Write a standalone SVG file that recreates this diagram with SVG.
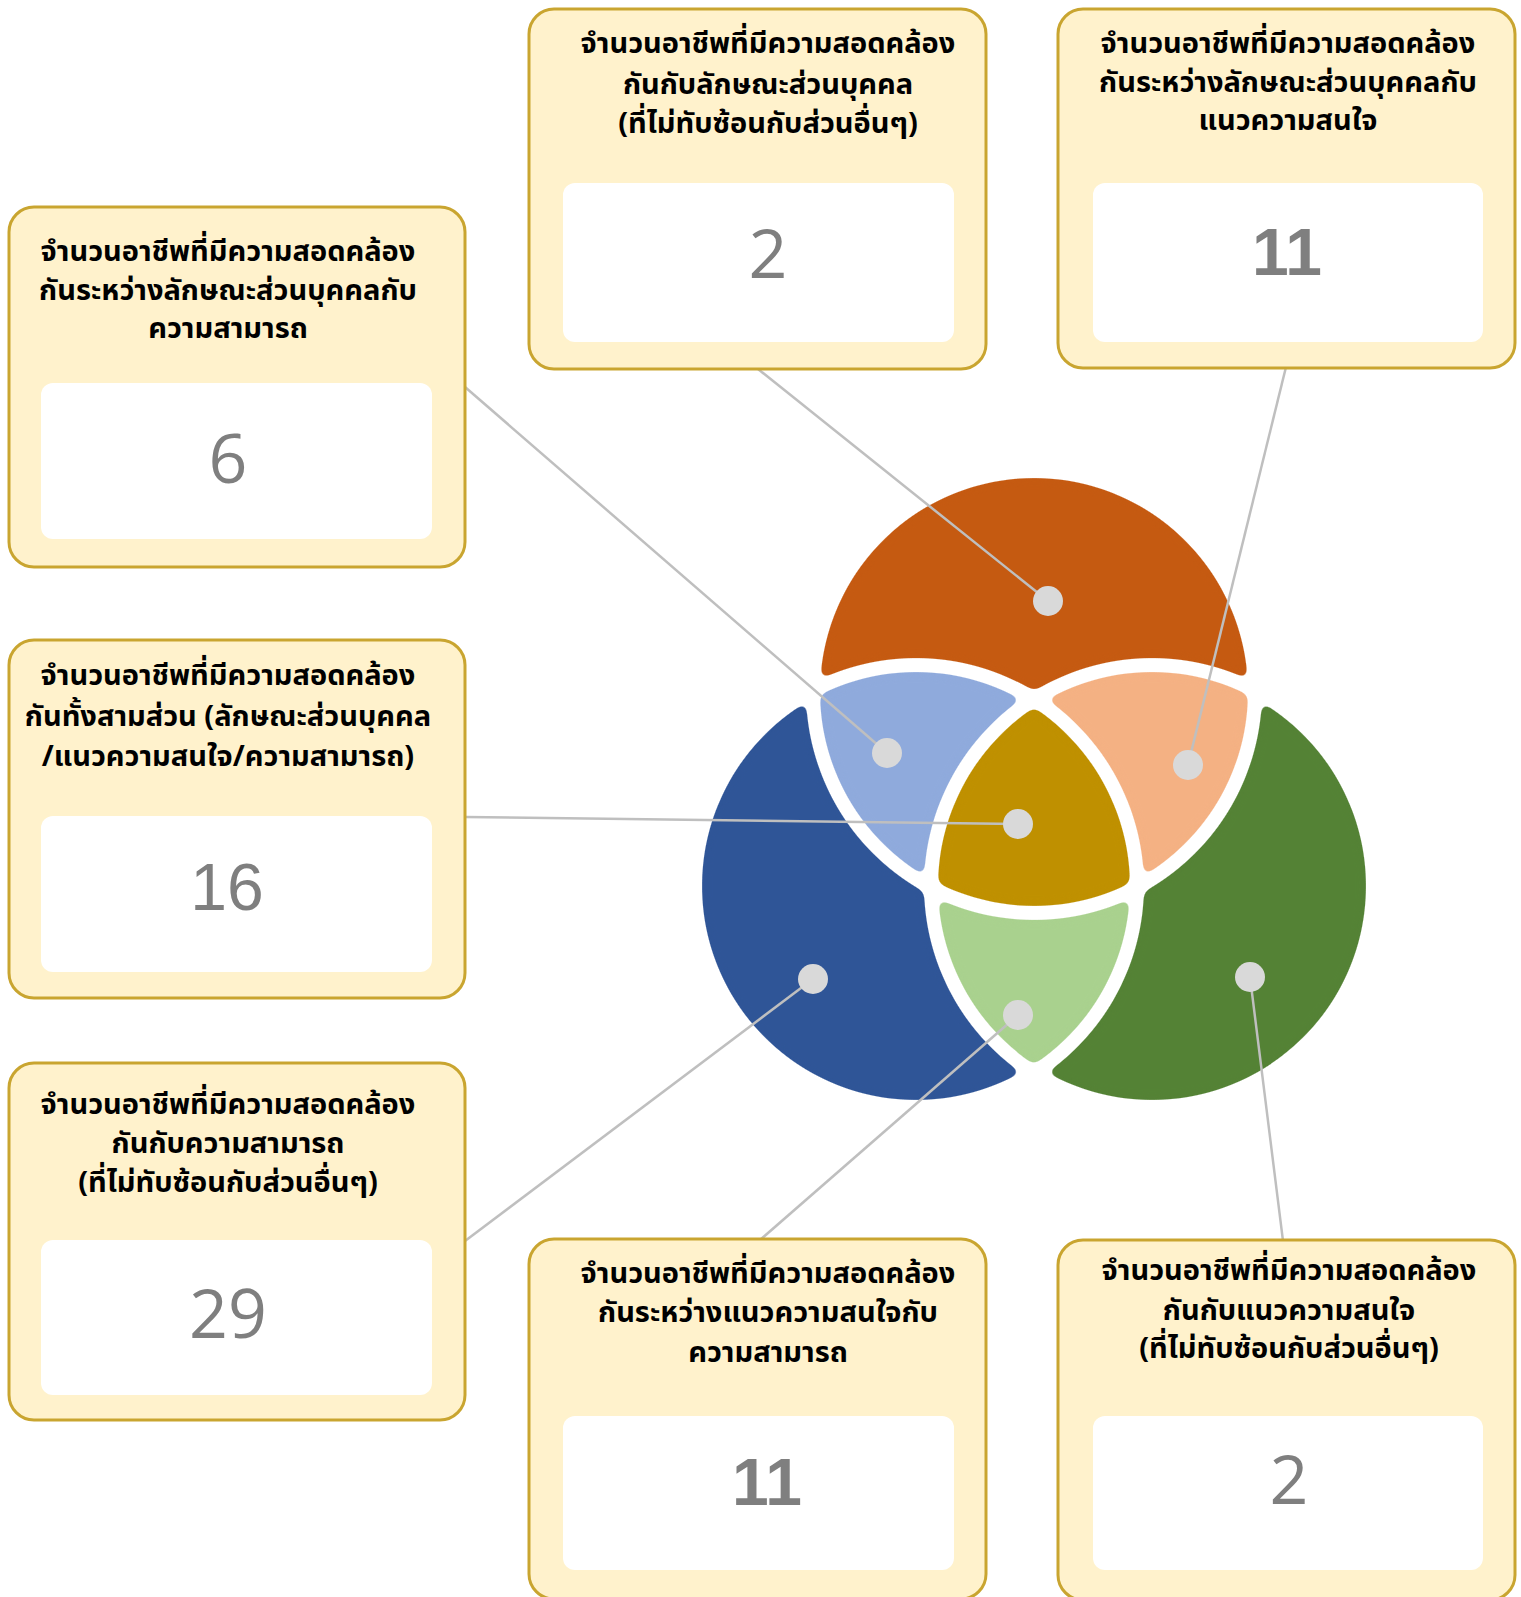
<svg xmlns="http://www.w3.org/2000/svg" width="1521" height="1597" viewBox="0 0 1521 1597">
<style>
.box{fill:#FFF2CC;stroke:#C9A530;stroke-width:3}
.inner{fill:#FFFFFF}
.lbl{font-family:"Noto Sans Thai","Tahoma","Noto Sans","DejaVu Sans",sans-serif;font-weight:bold;font-size:29px;fill:#000;text-anchor:middle}
.num{font-family:"Open Sans","Liberation Sans",sans-serif;font-size:68px;fill:#7F7F7F;text-anchor:middle}
.numr{font-family:"Liberation Sans",Arial,sans-serif;font-size:66px;fill:#7F7F7F;text-anchor:middle}
.numb{font-family:"Liberation Sans",Arial,sans-serif;font-weight:bold;font-size:66px;fill:#7F7F7F;text-anchor:middle}
.conn{stroke:#BFBFBF;stroke-width:2.5;fill:none}
.dot{fill:#D9D9D9}
.ring{fill:none;stroke:#000000;stroke-width:14}
</style>
<defs>
<clipPath id="cO"><circle cx="1034" cy="692" r="221"/></clipPath>
<clipPath id="cB"><circle cx="916" cy="886" r="221"/></clipPath>
<clipPath id="cG"><circle cx="1152" cy="886" r="221"/></clipPath>
<g id="rings">
<circle class="ring" cx="1034" cy="692" r="221"/>
<circle class="ring" cx="916" cy="886" r="221"/>
<circle class="ring" cx="1152" cy="886" r="221"/>
</g>
<mask id="mO" maskUnits="userSpaceOnUse" x="660" y="440" width="740" height="700">
<circle cx="1034" cy="692" r="221" fill="#FFFFFF"/>
<circle cx="916" cy="886" r="221" fill="#000000"/>
<circle cx="1152" cy="886" r="221" fill="#000000"/>
<use href="#rings"/>
</mask>
<mask id="mB" maskUnits="userSpaceOnUse" x="660" y="440" width="740" height="700">
<circle cx="916" cy="886" r="221" fill="#FFFFFF"/>
<circle cx="1034" cy="692" r="221" fill="#000000"/>
<circle cx="1152" cy="886" r="221" fill="#000000"/>
<use href="#rings"/>
</mask>
<mask id="mG" maskUnits="userSpaceOnUse" x="660" y="440" width="740" height="700">
<circle cx="1152" cy="886" r="221" fill="#FFFFFF"/>
<circle cx="1034" cy="692" r="221" fill="#000000"/>
<circle cx="916" cy="886" r="221" fill="#000000"/>
<use href="#rings"/>
</mask>
<mask id="mOB" maskUnits="userSpaceOnUse" x="660" y="440" width="740" height="700">
<g clip-path="url(#cO)"><circle cx="916" cy="886" r="221" fill="#FFFFFF"/></g>
<circle cx="1152" cy="886" r="221" fill="#000000"/>
<use href="#rings"/>
</mask>
<mask id="mOG" maskUnits="userSpaceOnUse" x="660" y="440" width="740" height="700">
<g clip-path="url(#cO)"><circle cx="1152" cy="886" r="221" fill="#FFFFFF"/></g>
<circle cx="916" cy="886" r="221" fill="#000000"/>
<use href="#rings"/>
</mask>
<mask id="mBG" maskUnits="userSpaceOnUse" x="660" y="440" width="740" height="700">
<g clip-path="url(#cB)"><circle cx="1152" cy="886" r="221" fill="#FFFFFF"/></g>
<circle cx="1034" cy="692" r="221" fill="#000000"/>
<use href="#rings"/>
</mask>
<mask id="mOBG" maskUnits="userSpaceOnUse" x="660" y="440" width="740" height="700">
<g clip-path="url(#cO)"><g clip-path="url(#cB)"><circle cx="1152" cy="886" r="221" fill="#FFFFFF"/></g></g>
<use href="#rings"/>
</mask>
<filter id="round" filterUnits="userSpaceOnUse" x="660" y="440" width="740" height="700" color-interpolation-filters="sRGB">
<feGaussianBlur in="SourceGraphic" stdDeviation="4.5" result="b"/>
<feComponentTransfer in="b"><feFuncA type="linear" slope="10" intercept="-4.5"/></feComponentTransfer>
</filter>
</defs>
<rect width="1521" height="1597" fill="#FFFFFF"/>
<g id="venn">
<g id="region-orange" filter="url(#round)"><rect x="660" y="440" width="740" height="700" fill="#C55A11" mask="url(#mO)"/></g>
<g id="region-blue" filter="url(#round)"><rect x="660" y="440" width="740" height="700" fill="#2F5597" mask="url(#mB)"/></g>
<g id="region-green" filter="url(#round)"><rect x="660" y="440" width="740" height="700" fill="#548235" mask="url(#mG)"/></g>
<g id="region-lavender" filter="url(#round)"><rect x="660" y="440" width="740" height="700" fill="#8FAADC" mask="url(#mOB)"/></g>
<g id="region-peach" filter="url(#round)"><rect x="660" y="440" width="740" height="700" fill="#F4B183" mask="url(#mOG)"/></g>
<g id="region-lightgreen" filter="url(#round)"><rect x="660" y="440" width="740" height="700" fill="#A9D18E" mask="url(#mBG)"/></g>
<g id="region-gold" filter="url(#round)"><rect x="660" y="440" width="740" height="700" fill="#BF9000" mask="url(#mOBG)"/></g>
</g>
<g id="connectors">
<line class="conn" x1="758" y1="369" x2="1048" y2="601"/>
<line class="conn" x1="1286" y1="367" x2="1188" y2="765"/>
<line class="conn" x1="465" y1="387" x2="887" y2="753"/>
<line class="conn" x1="465" y1="817" x2="1018" y2="824"/>
<line class="conn" x1="465" y1="1241" x2="813" y2="979"/>
<line class="conn" x1="760" y1="1240" x2="1018" y2="1015"/>
<line class="conn" x1="1283" y1="1241" x2="1250" y2="977"/>
</g>
<g id="dots">
<circle class="dot" cx="1048" cy="601" r="15"/>
<circle class="dot" cx="887" cy="753" r="15"/>
<circle class="dot" cx="1018" cy="824" r="15"/>
<circle class="dot" cx="1188" cy="765" r="15"/>
<circle class="dot" cx="813" cy="979" r="15"/>
<circle class="dot" cx="1018" cy="1015" r="15"/>
<circle class="dot" cx="1250" cy="977" r="15"/>
</g>
<g id="box-top-middle">
<rect class="box" x="529" y="9" width="457" height="360" rx="25"/>
<rect class="inner" x="563" y="183" width="391" height="159" rx="12"/>
<text class="lbl" x="768" y="53">จำนวนอาชีพที่มีความสอดคล้อง</text>
<text class="lbl" x="768" y="94">กันกับลักษณะส่วนบุคคล</text>
<text class="lbl" x="768" y="133">(ที่ไม่ทับซ้อนกับส่วนอื่นๆ)</text>
<text class="num" x="768" y="278">2</text>
</g>
<g id="box-top-right">
<rect class="box" x="1058" y="9" width="457" height="359" rx="25"/>
<rect class="inner" x="1093" y="183" width="390" height="159" rx="12"/>
<text class="lbl" x="1288" y="53">จำนวนอาชีพที่มีความสอดคล้อง</text>
<text class="lbl" x="1288" y="92">กันระหว่างลักษณะส่วนบุคคลกับ</text>
<text class="lbl" x="1288" y="130">แนวความสนใจ</text>
<text class="numb" x="1287" y="275">11</text>
</g>
<g id="box-left-1">
<rect class="box" x="9" y="207" width="456" height="360" rx="25"/>
<rect class="inner" x="41" y="383" width="391" height="156" rx="12"/>
<text class="lbl" x="228" y="261">จำนวนอาชีพที่มีความสอดคล้อง</text>
<text class="lbl" x="228" y="300">กันระหว่างลักษณะส่วนบุคคลกับ</text>
<text class="lbl" x="228" y="338">ความสามารถ</text>
<text class="num" x="228" y="483">6</text>
</g>
<g id="box-left-2">
<rect class="box" x="9" y="640" width="456" height="358" rx="25"/>
<rect class="inner" x="41" y="816" width="391" height="156" rx="12"/>
<text class="lbl" x="228" y="685">จำนวนอาชีพที่มีความสอดคล้อง</text>
<text class="lbl" x="228" y="726">กันทั้งสามส่วน (ลักษณะส่วนบุคคล</text>
<text class="lbl" x="228" y="766">/แนวความสนใจ/ความสามารถ)</text>
<text class="numr" x="227" y="910">16</text>
</g>
<g id="box-left-3">
<rect class="box" x="9" y="1063" width="456" height="357" rx="25"/>
<rect class="inner" x="41" y="1240" width="391" height="155" rx="12"/>
<text class="lbl" x="228" y="1114">จำนวนอาชีพที่มีความสอดคล้อง</text>
<text class="lbl" x="228" y="1153">กันกับความสามารถ</text>
<text class="lbl" x="228" y="1192">(ที่ไม่ทับซ้อนกับส่วนอื่นๆ)</text>
<text class="num" x="228" y="1338">29</text>
</g>
<g id="box-bottom-middle">
<rect class="box" x="529" y="1239" width="457" height="360" rx="25"/>
<rect class="inner" x="563" y="1416" width="391" height="154" rx="12"/>
<text class="lbl" x="768" y="1283">จำนวนอาชีพที่มีความสอดคล้อง</text>
<text class="lbl" x="768" y="1322">กันระหว่างแนวความสนใจกับ</text>
<text class="lbl" x="768" y="1362">ความสามารถ</text>
<text class="numb" x="767" y="1505">11</text>
</g>
<g id="box-bottom-right">
<rect class="box" x="1058" y="1240" width="457" height="360" rx="25"/>
<rect class="inner" x="1093" y="1416" width="390" height="154" rx="12"/>
<text class="lbl" x="1289" y="1280">จำนวนอาชีพที่มีความสอดคล้อง</text>
<text class="lbl" x="1289" y="1320">กันกับแนวความสนใจ</text>
<text class="lbl" x="1289" y="1358">(ที่ไม่ทับซ้อนกับส่วนอื่นๆ)</text>
<text class="num" x="1289" y="1504">2</text>
</g>
</svg>
